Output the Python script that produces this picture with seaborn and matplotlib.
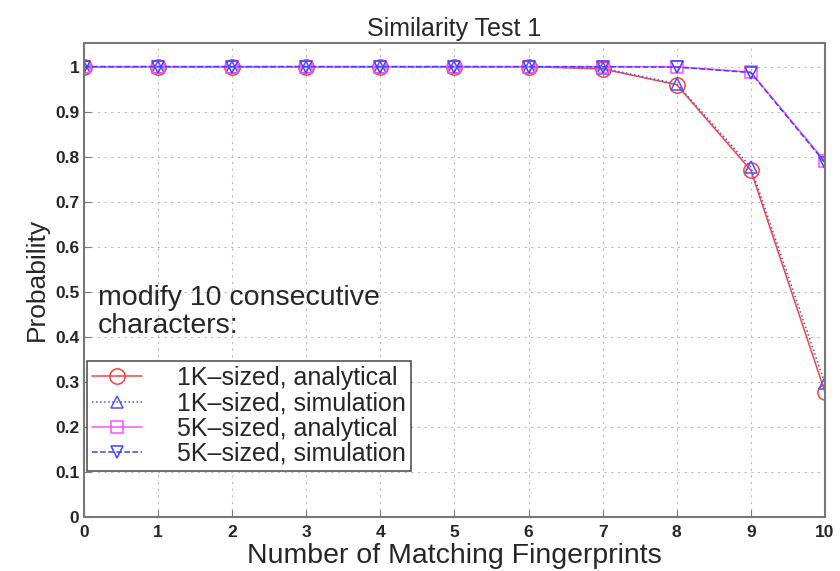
import matplotlib
matplotlib.use('Agg')
import matplotlib.pyplot as plt
import seaborn as sns
import pandas as pd

# values
x = list(range(11))
k1_analytical = [1, 1, 1, 1, 1, 1, 1, 0.995, 0.96, 0.77, 0.278]
k1_simulation = [1, 1, 1, 1, 1, 1, 1, 0.997, 0.962, 0.777, 0.297]
k5_analytical = [1, 1, 1, 1, 1, 1, 1, 1, 1, 0.988, 0.79]
k5_simulation = [1, 1, 1, 1, 1, 1, 1, 1, 0.999, 0.987, 0.787]

sns.set_style('ticks')
plt.rcParams['font.family'] = ['Liberation Sans', 'DejaVu Sans']

fig, ax = plt.subplots(figsize=(8.4, 5.71), dpi=100)

series = [
    ('1K\u2013sized, analytical', k1_analytical, '#ff4040', '-', 'o', 11),
    ('1K\u2013sized, simulation', k1_simulation, '#5050ff', ':', '^', 9),
    ('5K\u2013sized, analytical', k5_analytical, '#ff50ff', '-', 's', 9),
    ('5K\u2013sized, simulation', k5_simulation, '#4040ff', '--', 'v', 9),
]
for label, vals, color, ls, mk, ms in series:
    df = pd.DataFrame({'x': x, 'y': vals})
    sns.lineplot(data=df, x='x', y='y', ax=ax, color=color, linestyle=ls,
                 marker=mk, markersize=ms, markerfacecolor='none',
                 markeredgecolor=color, markeredgewidth=1.1, linewidth=1.1,
                 label=label)

ax.set_xlim(0, 10)
ax.set_ylim(0, 1.053)
ax.set_xticks(range(11))
ax.set_yticks([0, 0.1, 0.2, 0.3, 0.4, 0.5, 0.6, 0.7, 0.8, 0.9, 1])
ax.set_yticklabels(['0', '0.1', '0.2', '0.3', '0.4', '0.5', '0.6', '0.7', '0.8', '0.9', '1'])
ax.tick_params(labelsize=12.5, direction='in', length=5, color='#777777')
ax.tick_params(axis='x', pad=6)
for lab in ax.get_xticklabels() + ax.get_yticklabels():
    lab.set_fontweight('bold')
ax.grid(True, linestyle=(0, (2, 4)), color='#bbbbbb', linewidth=0.8)
for sp in ax.spines.values():
    sp.set_color('#777777')
    sp.set_linewidth(1.5)

ax.set_title('Similarity Test 1', fontsize=18, pad=5)
ax.set_xlabel('Number of Matching Fingerprints', fontsize=20.5, labelpad=2)
ax.set_ylabel('Probability', fontsize=19, labelpad=4)

ax.text(0.019, 0.49, 'modify 10 consecutive\ncharacters:', fontsize=20.5,
        ha='left', va='top', linespacing=1.1, transform=ax.transAxes)
leg = ax.legend(loc='lower left', bbox_to_anchor=(0.004, 0.097), fontsize=18,
                frameon=True, fancybox=False, handlelength=2.0,
                labelspacing=0.05, borderpad=0.2, handletextpad=1.4,
                borderaxespad=0)
leg.get_frame().set_edgecolor('#555555')
leg.get_frame().set_linewidth(1.2)
leg.get_frame().set_alpha(1)

fig.subplots_adjust(left=0.1, right=0.982, top=0.925, bottom=0.095)
fig.savefig('out.png', dpi=100)
